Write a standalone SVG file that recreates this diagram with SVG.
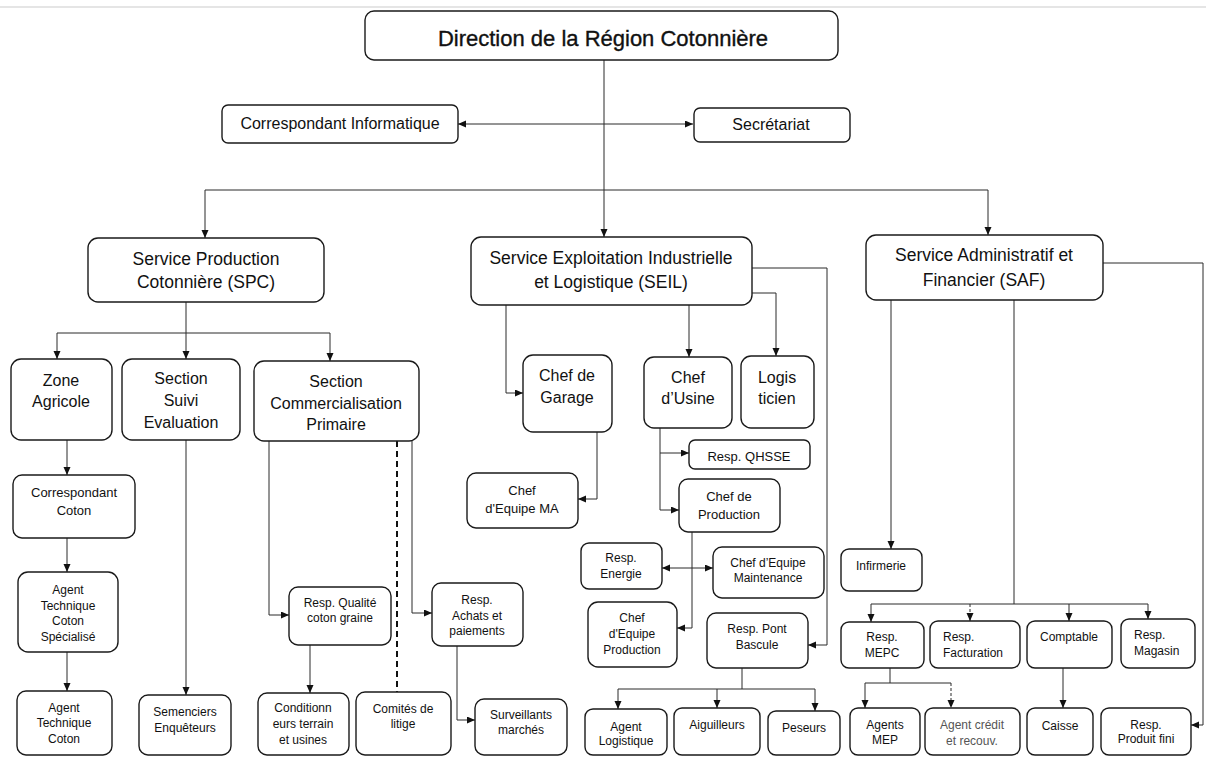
<svg xmlns="http://www.w3.org/2000/svg" width="1206" height="758" viewBox="0 0 1206 758">
<style>
.b{fill:#fff;stroke:#1a1a1a;stroke-width:1.4}
.t{font-family:"Liberation Sans",Arial,sans-serif;fill:#111;text-anchor:middle}
.f22{font-size:22px;stroke:#111;stroke-width:0.35}.f17{font-size:17.5px}.f16{font-size:16px}.f13{font-size:13px}.f12{font-size:12px}
.l{fill:none;stroke:#2a2a2a;stroke-width:1}
.la{fill:none;stroke:#2a2a2a;stroke-width:1;marker-end:url(#a)}
.g{fill:#555}
</style>
<defs>
<marker id="a" markerUnits="userSpaceOnUse" markerWidth="9" markerHeight="8" refX="8" refY="3.5" orient="auto-start-reverse"><path d="M0,0 L8,3.5 L0,7 z" fill="#111"/></marker>
</defs>
<rect width="1206" height="758" fill="#fff"/>
<line x1="0" y1="7" x2="1206" y2="7" stroke="#ddd" stroke-width="1.5"/>
<g id="connectors">
<path class="la" d="M604,60 V237"/>
<path class="l" d="M205,190 H988"/>
<path class="la" d="M205,190 V238"/>
<path class="la" d="M988,190 V235"/>
<path class="l" d="M458,124 H693" stroke="#444" style="marker-start:url(#a);marker-end:url(#a)"/>
<path class="l" d="M186,302 V333 M57,333 H330"/>
<path class="la" d="M57,333 V359"/>
<path class="la" d="M186,333 V359"/>
<path class="la" d="M330,333 V361"/>
<path class="la" d="M67,440 V475"/>
<path class="la" d="M67,538 V572"/>
<path class="la" d="M67,652 V691"/>
<path class="la" d="M186,440 V695"/>
<path class="la" d="M269,441 V615 H289"/>
<path class="la" d="M412,441 V613 H432"/>
<path d="M397,441 V692" fill="none" stroke="#111" stroke-width="2" stroke-dasharray="6,4"/>
<path class="la" d="M310,645 V693"/>
<path class="la" d="M457,646 V720 H475"/>
<path class="la" d="M506,305 V393 H523"/>
<path class="la" d="M689,305 V357"/>
<path class="la" d="M752,293 H776 V356"/>
<path class="la" d="M752,268 H827 V645 H808"/>
<path class="la" d="M597,432 V499 H578"/>
<path class="la" d="M660,428 V510 H679"/>
<path class="la" d="M660,453 H689"/>
<path class="la" d="M692,532 V628 H677"/>
<path class="l" d="M662,568 H713" style="marker-start:url(#a);marker-end:url(#a)"/>
<path class="l" d="M742,668 V689 M618,689 H815"/>
<path class="la" d="M618,689 V709"/>
<path class="la" d="M717,689 V708"/>
<path class="la" d="M815,689 V711"/>
<path class="la" d="M891,300 V549"/>
<path class="l" d="M1014,300 V604 M871,604 H1148"/>
<path class="la" d="M871,604 V622"/>
<path class="la" d="M970,604 V621" stroke="#777" stroke-dasharray="3,2"/>
<path class="la" d="M1069,604 V621"/>
<path class="la" d="M1148,604 V619"/>
<path class="la" d="M1103,263 H1203 V725 H1191"/>
<path class="l" d="M890,668 V683 M865,683 H951"/>
<path class="la" d="M865,683 V708"/>
<path class="la" d="M951,683 V708" stroke="#888" stroke-dasharray="3,2"/>
<path class="la" d="M1063,668 V708"/>
</g>
<g id="n-direction"><rect class="b" x="365" y="11" width="473" height="49" rx="9"/><text class="t f22" x="603" y="46">Direction de la Région Cotonnière</text></g>
<g id="n-corrinfo"><rect class="b" x="222" y="105" width="236" height="38" rx="6"/><text class="t f16" x="340" y="129">Correspondant Informatique</text></g>
<g id="n-secretariat"><rect class="b" x="694" y="108" width="156" height="34" rx="6"/><text class="t f16" x="771" y="130">Secrétariat</text></g>
<g id="n-spc"><rect class="b" x="88" y="238" width="236" height="64" rx="10"/><text class="t f17" x="206" y="265">Service Production</text><text class="t f17" x="206" y="288">Cotonnière (SPC)</text></g>
<g id="n-seil"><rect class="b" x="471" y="237" width="281" height="68" rx="10"/><text class="t f17" x="611" y="264">Service Exploitation Industrielle</text><text class="t f17" x="611" y="288">et Logistique (SEIL)</text></g>
<g id="n-saf"><rect class="b" x="866" y="235" width="237" height="65" rx="10"/><text class="t f17" x="984" y="261">Service Administratif et</text><text class="t f17" x="984" y="286">Financier (SAF)</text></g>
<g id="n-zone"><rect class="b" x="11" y="359" width="101" height="81" rx="10"/><text class="t f16" x="61" y="386">Zone</text><text class="t f16" x="61" y="407">Agricole</text></g>
<g id="n-suivi"><rect class="b" x="122" y="359" width="118" height="81" rx="10"/><text class="t f16" x="181" y="384">Section</text><text class="t f16" x="181" y="406">Suivi</text><text class="t f16" x="181" y="428">Evaluation</text></g>
<g id="n-comm"><rect class="b" x="254" y="361" width="165" height="80" rx="10"/><text class="t f16" x="336" y="387">Section</text><text class="t f16" x="336" y="409">Commercialisation</text><text class="t f16" x="336" y="430">Primaire</text></g>
<g id="n-corrcoton"><rect class="b" x="13" y="475" width="122" height="63" rx="9"/><text class="t f13" x="74" y="497">Correspondant</text><text class="t f13" x="74" y="515">Coton</text></g>
<g id="n-atcs"><rect class="b" x="18" y="572" width="100" height="80" rx="10"/><text class="t f12" x="68" y="594">Agent</text><text class="t f12" x="68" y="609.5">Technique</text><text class="t f12" x="68" y="625">Coton</text><text class="t f12" x="68" y="641">Spécialisé</text></g>
<g id="n-atc"><rect class="b" x="17" y="691" width="95" height="64" rx="9"/><text class="t f12" x="64" y="712">Agent</text><text class="t f12" x="64" y="727">Technique</text><text class="t f12" x="64" y="743">Coton</text></g>
<g id="n-semenciers"><rect class="b" x="139" y="695" width="92" height="60" rx="9"/><text class="t f12" x="185" y="716">Semenciers</text><text class="t f12" x="185" y="732">Enquêteurs</text></g>
<g id="n-qualite"><rect class="b" x="289" y="587" width="102" height="58" rx="9"/><text class="t f12" x="340" y="607">Resp. Qualité</text><text class="t f12" x="340" y="622">coton graine</text></g>
<g id="n-achats"><rect class="b" x="432" y="583" width="91" height="63" rx="9"/><text class="t f12" x="477" y="604">Resp.</text><text class="t f12" x="477" y="620">Achats et</text><text class="t f12" x="477" y="635">paiements</text></g>
<g id="n-condition"><rect class="b" x="258" y="693" width="91" height="62" rx="9"/><text class="t f12" x="303" y="712">Conditionn</text><text class="t f12" x="303" y="728">eurs terrain</text><text class="t f12" x="303" y="744">et usines</text></g>
<g id="n-comites"><rect class="b" x="356" y="692" width="95" height="63" rx="9"/><text class="t f12" x="403" y="713">Comités de</text><text class="t f12" x="403" y="728">litige</text></g>
<g id="n-surveillants"><rect class="b" x="475" y="699" width="92" height="56" rx="9"/><text class="t f12" x="521" y="719">Surveillants</text><text class="t f12" x="521" y="734">marchés</text></g>
<g id="n-garage"><rect class="b" x="523" y="355" width="89" height="77" rx="10"/><text class="t f16" x="567" y="381">Chef de</text><text class="t f16" x="567" y="403">Garage</text></g>
<g id="n-usine"><rect class="b" x="644" y="357" width="88" height="71" rx="10"/><text class="t f16" x="688" y="383">Chef</text><text class="t f16" x="688" y="404">d’Usine</text></g>
<g id="n-logisticien"><rect class="b" x="741" y="356" width="73" height="72" rx="10"/><text class="t f16" x="777" y="383">Logis</text><text class="t f16" x="777" y="404">ticien</text></g>
<g id="n-equipema"><rect class="b" x="467" y="473" width="111" height="55" rx="9"/><text class="t f13" x="522" y="494.5">Chef</text><text class="t f13" x="522" y="512.5">d'Equipe MA</text></g>
<g id="n-qhsse"><rect class="b" x="689" y="440" width="121" height="29" rx="6"/><text class="t f13" x="749" y="460.5">Resp. QHSSE</text></g>
<g id="n-chefprod"><rect class="b" x="679" y="479" width="101" height="53" rx="9"/><text class="t f13" x="729" y="500.5">Chef de</text><text class="t f13" x="729" y="518.5">Production</text></g>
<g id="n-energie"><rect class="b" x="581" y="543" width="81" height="46" rx="8"/><text class="t f12" x="621" y="562">Resp.</text><text class="t f12" x="621" y="578">Energie</text></g>
<g id="n-maint"><rect class="b" x="713" y="547" width="111" height="51" rx="9"/><text class="t f12" x="768" y="567">Chef d’Equipe</text><text class="t f12" x="768" y="582">Maintenance</text></g>
<g id="n-equipeprod"><rect class="b" x="588" y="602" width="89" height="65" rx="10"/><text class="t f12" x="632" y="622">Chef</text><text class="t f12" x="632" y="638">d'Equipe</text><text class="t f12" x="632" y="654">Production</text></g>
<g id="n-pont"><rect class="b" x="707" y="613" width="101" height="55" rx="9"/><text class="t f12" x="757" y="633">Resp. Pont</text><text class="t f12" x="757" y="649">Bascule</text></g>
<g id="n-agentlog"><rect class="b" x="585" y="709" width="82" height="46" rx="8"/><text class="t f12" x="626" y="731">Agent</text><text class="t f12" x="626" y="745">Logistique</text></g>
<g id="n-aiguilleurs"><rect class="b" x="674" y="708" width="86" height="47" rx="8"/><text class="t f12" x="717" y="729">Aiguilleurs</text></g>
<g id="n-peseurs"><rect class="b" x="768" y="711" width="72" height="44" rx="8"/><text class="t f12" x="804" y="732">Peseurs</text></g>
<g id="n-infirmerie"><rect class="b" x="841" y="549" width="81" height="42" rx="8"/><text class="t f12" x="881" y="570">Infirmerie</text></g>
<g id="n-mepc"><rect class="b" x="841" y="622" width="83" height="46" rx="8"/><text class="t f12" x="882" y="641">Resp.</text><text class="t f12" x="882" y="657">MEPC</text></g>
<g id="n-facturation"><rect class="b" x="930" y="621" width="90" height="47" rx="8"/><text class="t f12" x="943" y="641" style="text-anchor:start">Resp.</text><text class="t f12" x="943" y="657" style="text-anchor:start">Facturation</text></g>
<g id="n-comptable"><rect class="b" x="1027" y="621" width="85" height="47" rx="8"/><text class="t f12" x="1069" y="641">Comptable</text></g>
<g id="n-magasin"><rect class="b" x="1121" y="619" width="74" height="49" rx="8"/><text class="t f12" x="1134" y="639" style="text-anchor:start">Resp.</text><text class="t f12" x="1134" y="655" style="text-anchor:start">Magasin</text></g>
<g id="n-agentsmep"><rect class="b" x="850" y="708" width="70" height="47" rx="8"/><text class="t f12" x="885" y="729">Agents</text><text class="t f12" x="885" y="744">MEP</text></g>
<g id="n-credit"><rect class="b" x="925" y="708" width="95" height="47" rx="8"/><text class="t f12 g" x="972" y="729">Agent crédit</text><text class="t f12 g" x="972" y="745">et recouv.</text></g>
<g id="n-caisse"><rect class="b" x="1027" y="708" width="66" height="47" rx="8"/><text class="t f12" x="1060" y="730">Caisse</text></g>
<g id="n-produitfini"><rect class="b" x="1101" y="708" width="90" height="47" rx="8"/><text class="t f12" x="1146" y="729">Resp.</text><text class="t f12" x="1146" y="743">Produit fini</text></g>
</svg>
